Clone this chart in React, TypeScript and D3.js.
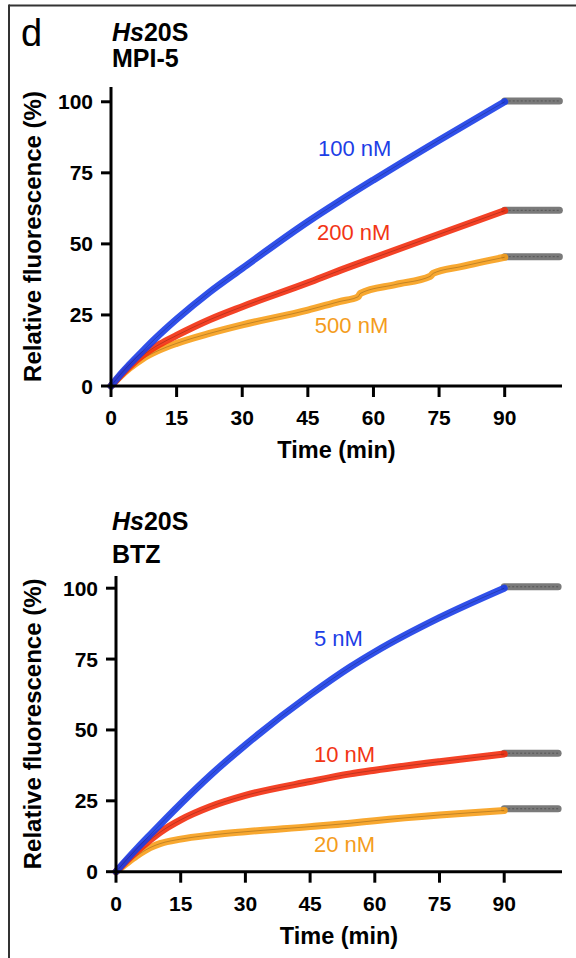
import React from "react";
import * as d3 from "d3";

// ---------- data ----------
const xTicks = [0, 15, 30, 45, 60, 75, 90];
const yTicks = [0, 25, 50, 75, 100];

// Top panel: Hs20S + MPI-5
const mpi100: [number, number][] = [
  [0, 0], [2, 3.8], [4.2, 7.5], [7.25, 12.3], [10, 16.5], [15, 23.5], [22.5, 33.0],
  [30, 41.4], [45, 57.8], [52.2, 65], [60, 72.5], [75, 86.5], [90, 100],
];
const mpi200: [number, number][] = [
  [0, 0], [2, 3.4], [4.2, 6.8], [7.25, 10.8], [11, 14.6], [15, 17.8], [22.5, 23.3],
  [30, 27.9], [45, 36.3], [52.2, 40.6], [60, 45], [75, 53.4], [90, 61.7],
];
const mpi500: [number, number][] = [
  [0, 0], [2, 3.2], [4.2, 6.2], [7.25, 9.6], [11, 12.6], [15, 15], [22.5, 18.5],
  [30, 21.5], [45, 26.7], [52.2, 29.7], [56.5, 31.4], [57, 32.6], [65, 35.7],
  [73, 38.6], [73.6, 39.6], [80, 42], [90, 45.3],
];

// Bottom panel: Hs20S + BTZ
const btz5: [number, number][] = [
  [0, 0], [2.5, 4.3], [5, 8.4], [7.9, 13.0], [15, 24.0], [21.8, 33.9], [30, 44.7],
  [45, 62.4], [54.3, 72.2], [60, 77.5], [75, 89.6], [90, 100],
];
const btz10: [number, number][] = [
  [0, 0], [2.5, 3.9], [4.8, 7.2], [7.9, 11.2], [10.2, 13.9], [15, 18.3], [21.8, 22.9],
  [30, 26.9], [45, 31.8], [54.3, 34.5], [60, 35.8], [75, 38.8], [90, 41.5],
];
const btz20: [number, number][] = [
  [0, 0], [2.5, 3.0], [4.8, 5.6], [7.9, 8.5], [10.2, 9.9], [15, 11.5], [21.8, 12.9],
  [30, 14.1], [45, 15.9], [54.3, 17.1], [60, 18], [75, 20], [90, 21.6],
];

// plateau (grey) after 90 min
const plateauTimes = [90, 102.5];
const mpiPlateau = [100.3, 61.8, 45.5];
const btzPlateau = [100.5, 41.8, 22.2];

const mpiLabels = ["100 nM", "200 nM", "500 nM"];
const btzLabels = ["5 nM", "10 nM", "20 nM"];
// label anchor positions in data units [t, value]
const mpiLabelPos: [number, number][] = [[47.3, 80.8], [47.1, 51.3], [46.6, 18.6]];
const btzLabelPos: [number, number][] = [[45.9, 79.6], [45.9, 38.7], [45.9, 7.0]];

const lineColors = ["#1a3de8", "#f32d0e", "#f79e1a"];
const textColors = ["#1d3ee6", "#f23515", "#f49c1c"];
const grey = "#7a7a7a";

const FONT = "'Liberation Sans', Arial, Helvetica, sans-serif";

type PanelProps = {
  x0: number; x1: number; xMax: number;
  yBottom: number; yTop: number; yMax: number;
  series: [number, number][][];
  plateau: number[];
  labels: string[];
  labelPos: [number, number][];
  title1Y: number; title2Y: number; subtitle: string;
};

function Panel(p: PanelProps) {
  const x = d3.scaleLinear().domain([0, p.xMax]).range([p.x0, p.x1]);
  const y = d3.scaleLinear().domain([0, p.yMax]).range([p.yBottom, p.yTop]);
  const line = d3
    .line<[number, number]>()
    .x((d) => x(d[0]))
    .y((d) => y(d[1]))
    .curve(d3.curveMonotoneX);
  const order = [2, 1, 0];
  return (
    <g>
      {/* titles */}
      <text x={112} y={p.title1Y} fontFamily={FONT} fontWeight="bold" fontSize={25}>
        <tspan fontStyle="italic">Hs</tspan>20S
      </text>
      <text x={112} y={p.title2Y} fontFamily={FONT} fontWeight="bold" fontSize={25}>
        {p.subtitle}
      </text>

      {/* plateau grey */}
      {p.plateau.map((v, i) => {
        const pts: [number, number][] = plateauTimes.map((t) => [t, v]);
        return (
          <g key={"g" + i}>
            <path d={line(pts) || ""} fill="none" stroke={grey} strokeWidth={7} strokeLinecap="round" />
            <path d={line(pts) || ""} fill="none" stroke="#555" strokeWidth={1} strokeDasharray="2 2" />
          </g>
        );
      })}

      {/* series */}
      {order.map((i) => (
        <g key={"s" + i}>
          <path
            d={line(p.series[i]) || ""}
            fill="none"
            stroke={lineColors[i]}
            strokeWidth={7}
            strokeLinecap="round"
            strokeLinejoin="round"
            opacity={0.9}
          />
          <path
            d={line(p.series[i]) || ""}
            fill="none"
            stroke="#000"
            strokeOpacity={0.22}
            strokeWidth={1}
          />
        </g>
      ))}

      {/* series labels */}
      {p.labels.map((s, i) => (
        <text
          key={"l" + i}
          x={x(p.labelPos[i][0])}
          y={y(p.labelPos[i][1])}
          fontFamily={FONT}
          fontSize={22}
          fill={textColors[i]}
        >
          {s}
        </text>
      ))}

      {/* axes */}
      <line x1={p.x0} x2={p.x0} y1={p.yTop} y2={p.yBottom + 1.5} stroke="#000" strokeWidth={3} />
      <line x1={p.x0 - 1.5} x2={p.x1} y1={p.yBottom} y2={p.yBottom} stroke="#000" strokeWidth={3} />
      {yTicks.map((v) => (
        <g key={"yt" + v}>
          <line x1={p.x0 - 10} x2={p.x0} y1={y(v)} y2={y(v)} stroke="#000" strokeWidth={3} />
          <text
            x={p.x0 - 18}
            y={y(v) + 7.5}
            textAnchor="end"
            fontFamily={FONT}
            fontWeight="bold"
            fontSize={21}
          >
            {v}
          </text>
        </g>
      ))}
      {xTicks.map((t) => (
        <g key={"xt" + t}>
          <line x1={x(t)} x2={x(t)} y1={p.yBottom} y2={p.yBottom + 11} stroke="#000" strokeWidth={3} />
          <text
            x={x(t)}
            y={p.yBottom + 39}
            textAnchor="middle"
            fontFamily={FONT}
            fontWeight="bold"
            fontSize={21}
          >
            {t}
          </text>
        </g>
      ))}
      <text
        x={(p.x0 + p.x1) / 2}
        y={p.yBottom + 72}
        textAnchor="middle"
        fontFamily={FONT}
        fontWeight="bold"
        fontSize={23.5}
      >
        Time (min)
      </text>
      <text
        transform={`translate(41, ${(p.yTop + p.yBottom) / 2}) rotate(-90)`}
        textAnchor="middle"
        fontFamily={FONT}
        fontWeight="bold"
        fontSize={24}
      >
        Relative fluorescence (%)
      </text>
    </g>
  );
}

export default function App() {
  return (
    <svg
      width={576}
      height={958}
      style={{ position: "absolute", left: 0, top: 0, background: "#fff" }}
    >
      <rect x={0} y={0} width={576} height={958} fill="#fff" />
      {/* frame */}
      <line x1={9} x2={576} y1={5.5} y2={5.5} stroke="#333" strokeWidth={2} />
      <line x1={9} x2={9} y1={4.5} y2={958} stroke="#333" strokeWidth={2} />
      <text x={21} y={46} fontFamily={FONT} fontSize={38}>
        d
      </text>
      <Panel
        x0={111}
        x1={562}
        xMax={103.1}
        yBottom={386}
        yTop={87}
        yMax={105.2}
        series={[mpi100, mpi200, mpi500]}
        plateau={mpiPlateau}
        labels={mpiLabels}
        labelPos={mpiLabelPos}
        title1Y={41}
        title2Y={67}
        subtitle="MPI-5"
      />
      <Panel
        x0={116}
        x1={562}
        xMax={103.4}
        yBottom={871.7}
        yTop={576}
        yMax={104.3}
        series={[btz5, btz10, btz20]}
        plateau={btzPlateau}
        labels={btzLabels}
        labelPos={btzLabelPos}
        title1Y={530}
        title2Y={563}
        subtitle="BTZ"
      />
    </svg>
  );
}
